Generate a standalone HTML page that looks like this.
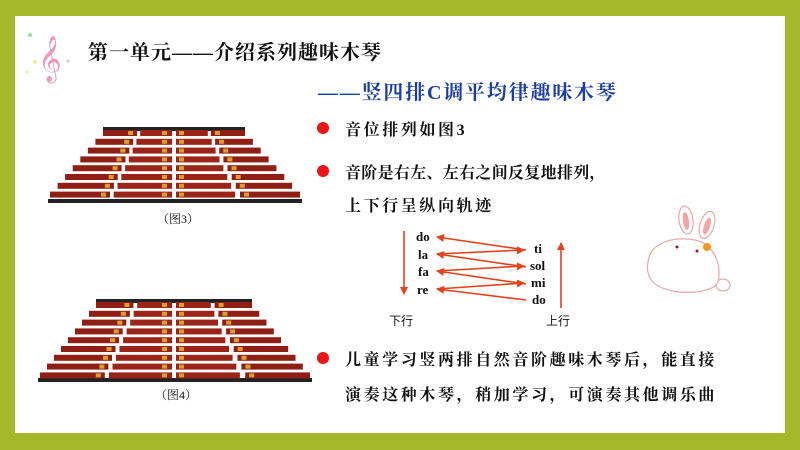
<!DOCTYPE html>
<html><head><meta charset="utf-8"><style>
body{margin:0;width:800px;height:450px;background:#a4b82a;position:relative;overflow:hidden;font-family:"Liberation Serif","Noto Serif CJK SC",serif}
.panel{position:absolute;left:15px;top:16px;width:770px;height:417px;background:#fff}
.t{position:absolute;white-space:nowrap;color:#111}
.b{font-size:16px;font-weight:bold;letter-spacing:2.6px}
.dot{position:absolute;width:12px;height:12px;border-radius:50%;background:#e8161a}
</style></head><body>
<div class="panel"></div>
<svg style="position:absolute;left:0;top:0" width="800" height="450">
<g font-family="DejaVu Sans" fill="#e79cc0"><text x="38" y="72" font-size="40">𝄞</text></g>
<circle cx="30" cy="35" r="2" fill="#9d9"/><circle cx="35" cy="62" r="2" fill="#ee8"/><circle cx="68" cy="61" r="1.5" fill="#dbe"/><circle cx="27" cy="72" r="1.5" fill="#ee8"/>
<g id="x"></g>
<defs><marker id="a" markerWidth="8" markerHeight="8" refX="7" refY="4" orient="auto" markerUnits="userSpaceOnUse"><path d="M0,0 L8,4 L0,8 Z" fill="#e2431c"/></marker></defs>
<g stroke="#e2431c" stroke-width="1.6" marker-end="url(#a)">
<line x1="404" y1="231" x2="404" y2="294"/>
<line x1="561" y1="308" x2="561" y2="243"/>
<line x1="526" y1="250" x2="437" y2="237"/>
<line x1="437" y1="254" x2="524" y2="250"/>
<line x1="526" y1="267" x2="437" y2="254"/>
<line x1="437" y1="271" x2="524" y2="266"/>
<line x1="526" y1="284" x2="437" y2="271"/>
<line x1="437" y1="289" x2="524" y2="283"/>
<line x1="526" y1="300" x2="437" y2="289"/>
</g>
<g font-family="Liberation Serif" font-weight="bold" font-size="13" fill="#111">
<text x="416" y="241">do</text><text x="418" y="259">la</text><text x="418" y="276">fa</text><text x="417" y="294">re</text>
<text x="534" y="253">ti</text><text x="530" y="270">sol</text><text x="531" y="287">mi</text><text x="532" y="304">do</text>
</g>
<g font-family="Noto Sans CJK SC" font-size="12" fill="#111"><text x="389" y="325">下行</text><text x="546" y="325">上行</text></g>
<g stroke="#e8a8a8" stroke-width="1.2" fill="#fff">
<ellipse cx="686" cy="220" rx="7" ry="14" transform="rotate(-8 686 220)"/>
<ellipse cx="707" cy="225" rx="7" ry="14" transform="rotate(18 707 225)"/>
<ellipse cx="723" cy="285" rx="7" ry="6"/>
<path d="M648,262 C650,242 675,236 695,240 C714,244 722,265 718,282 C712,296 660,297 650,278 C647,272 647,267 648,262Z"/>
</g>
<ellipse cx="686" cy="221" rx="3" ry="9" fill="#f4a4a4" transform="rotate(-8 686 221)"/>
<ellipse cx="707" cy="226" rx="3" ry="9" fill="#f4a4a4" transform="rotate(18 707 226)"/>
<circle cx="677" cy="247" r="1.5" fill="#822"/><circle cx="697" cy="251" r="1.5" fill="#822"/>
<circle cx="707" cy="247" r="4" fill="#f39a1e"/>
</svg>
<div class="t" style="left:88px;top:36px;font-size:20px;font-weight:bold;letter-spacing:1px">第一单元——介绍系列趣味木琴</div>
<div class="t" style="left:318px;top:76px;font-size:20px;color:#1d3ea0;font-weight:bold;letter-spacing:1.8px">——竖四排C调平均律趣味木琴</div>
<div class="t" style="left:157px;top:210px;font-size:12px">（图3）</div>
<div class="t" style="left:155px;top:386px;font-size:12px">（图4）</div>
<div class="dot" style="left:317px;top:122px"></div>
<div class="dot" style="left:317px;top:165px"></div>
<div class="dot" style="left:317px;top:352px"></div>
<div class="t b" style="left:345px;top:117px">音位排列如图3</div>
<div class="t b" style="left:345px;top:160px;letter-spacing:0.3px">音阶是右左、左右之间反复地排列，</div>
<div class="t b" style="left:345px;top:193px">上下行呈纵向轨迹</div>
<div class="t b" style="left:345px;top:347px">儿童学习竖两排自然音阶趣味木琴后，能直接</div>
<div class="t b" style="left:345px;top:382px">演奏这种木琴，稍加学习，可演奏其他调乐曲</div>
<script>
var g=document.getElementById('x'),s='';
function R(x,y,w,h,c){s+='<rect x="'+x.toFixed(1)+'" y="'+y.toFixed(1)+'" width="'+w.toFixed(1)+'" height="'+h+'" fill="'+c+'"/>';}
function fig(top,n,dy,fx0,fx1,bx0,bx1,bot){
 R(fx0,top-3,fx1-fx0,4,'#222');R(bx0-2,bot,bx1-bx0+4,4,'#222');
 var cx=(fx0+fx1)/2;
 for(var i=0;i<n;i++){var y=top+i*dy,t=i/(n-1);
  var L=fx0+(bx0-fx0)*t,Rr=fx1+(bx1-fx1)*t;
  var ow=(Rr-L)*0.24;
  var il=cx-4-(cx-L)*0.42-(i*0.6), ir=cx+4+(Rr-cx)*0.42+(i*0.6);
  R(L,y,ow,6,'#8f1f15');R(il,y,cx-2-il,6,'#9a2418');R(cx+2,y,ir-cx-2,6,'#9a2418');R(Rr-ow,y,ow,6,'#8f1f15');
  R(L+ow-9,y+1,5,4,'#d7a030');R(cx-12,y+1,5,4,'#d7a030');R(cx+5,y+1,5,4,'#d7a030');R(Rr-ow+4,y+1,5,4,'#d7a030');
 }
}
fig(130,8,8.8,103,245,50,300,199);
fig(302,9,8.8,96,252,40,310,378);
g.innerHTML=s;
</script>
</body></html>
